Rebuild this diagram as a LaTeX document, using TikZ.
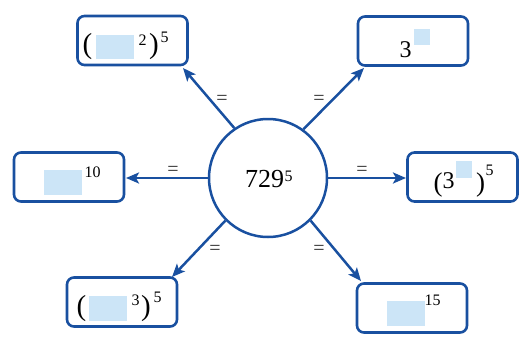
\documentclass[tikz,border=0pt]{standalone}
\usepackage{fontspec}
\setmainfont{Liberation Serif}
\usetikzlibrary{arrows.meta}
\definecolor{db}{RGB}{25,80,160}
\definecolor{lb}{RGB}{204,229,247}
\definecolor{eqc}{RGB}{45,45,45}
\tikzset{
  box/.style={draw=db, line width=2.6pt, rounded corners=7pt, minimum width=110pt, minimum height=49pt, inner sep=0pt},
  circ/.style={draw=db, line width=2.5pt, circle, minimum size=118pt, inner sep=0pt},
  arr/.style={draw=db, line width=2.5pt, -{Stealth[length=13pt,width=11pt,inset=3pt]}},
  sq/.style={fill=lb},
  big/.style={anchor=base west, inner sep=0pt, font=\fontsize{24}{26}\selectfont},
  par/.style={anchor=base west, inner sep=0pt, font=\fontsize{29}{31}\selectfont},
  parr/.style={anchor=base west, inner sep=0pt, font=\fontsize{27}{29}\selectfont},
  sup/.style={anchor=base west, inner sep=0pt, font=\fontsize{16}{18}\selectfont},
  eq/.style={inner sep=0pt, text=eqc, font=\fontsize{20}{22}\selectfont},
}
\begin{document}
\begin{tikzpicture}[x=1pt,y=-1pt]
\useasboundingbox (0,0) rectangle (521,348);
% boxes
\node[box] (tl) at (132.5,40.5) {};
\node[box] (tr) at (413,41) {};
\node[box] (l) at (69,177) {};
\node[box] (r) at (462.5,177) {};
\node[box] (bl) at (122,302) {};
\node[box] (br) at (412,308) {};
% circle
\node[circ] (c) at (268,178) {};
\node[anchor=base west, inner sep=0pt, font=\fontsize{26}{28}\selectfont] (ct) at (245,187) {729};
\node[sup] (cs) at (284.5,181) {5};
% tip coordinates
\coordinate (ttl) at (183,68);
\coordinate (ttr) at (364,68);
\coordinate (tl2) at (126,178);
\coordinate (tr2) at (406,178);
\coordinate (tbl) at (172,277);
\coordinate (tbr) at (361,281);
% arrows
\draw[arr] (c.124.5) -- (ttl);
\draw[arr] (c.54) -- (ttr);
\draw[arr] (c.west) -- (tl2);
\draw[arr] (c.east) -- (tr2);
\draw[arr] (c.225.5) -- (tbl);
\draw[arr] (c.315) -- (tbr);
% equals
\node[eq] (e1) at (222,100) {=};
\node[eq] (e2) at (319,100) {=};
\node[eq] (e3) at (173,171) {=};
\node[eq] (e4) at (362,171) {=};
\node[eq] (e5) at (215,250) {=};
\node[eq] (e6) at (319,250) {=};
% top-left content
\node[par] (a1) at (82.5,53.5) {(};
\fill[sq] (96,35) rectangle (134,59);
\node[sup] (a2) at (138.5,45) {2};
\node[par] (a3) at (149,53.5) {)};
\node[sup] (a4) at (160.5,42) {5};
% top-right content
\node[big] (b1) at (399.5,57) {3};
\fill[sq] (414,29) rectangle (430,45);
% left content
\fill[sq] (44,170) rectangle (82,195);
\node[sup] (l1) at (84.5,177) {10};
% right content
\node[parr] (r1) at (433.5,191) {(};
\node[big] (r2) at (442.5,188) {3};
\fill[sq] (456,161) rectangle (472,178);
\node[parr] (r3) at (476,191) {)};
\node[sup] (r4) at (485.5,175) {5};
% bottom-left content
\node[par] (m1) at (76.5,315.5) {(};
\fill[sq] (89,296) rectangle (127,321);
\node[sup] (m2) at (131.5,305) {3};
\node[par] (m3) at (141,315.5) {)};
\node[sup] (m4) at (153.5,302) {5};
% bottom-right content
\fill[sq] (387,301) rectangle (425,326);
\node[sup] (n1) at (424.5,305) {15};
\end{tikzpicture}
\end{document}
